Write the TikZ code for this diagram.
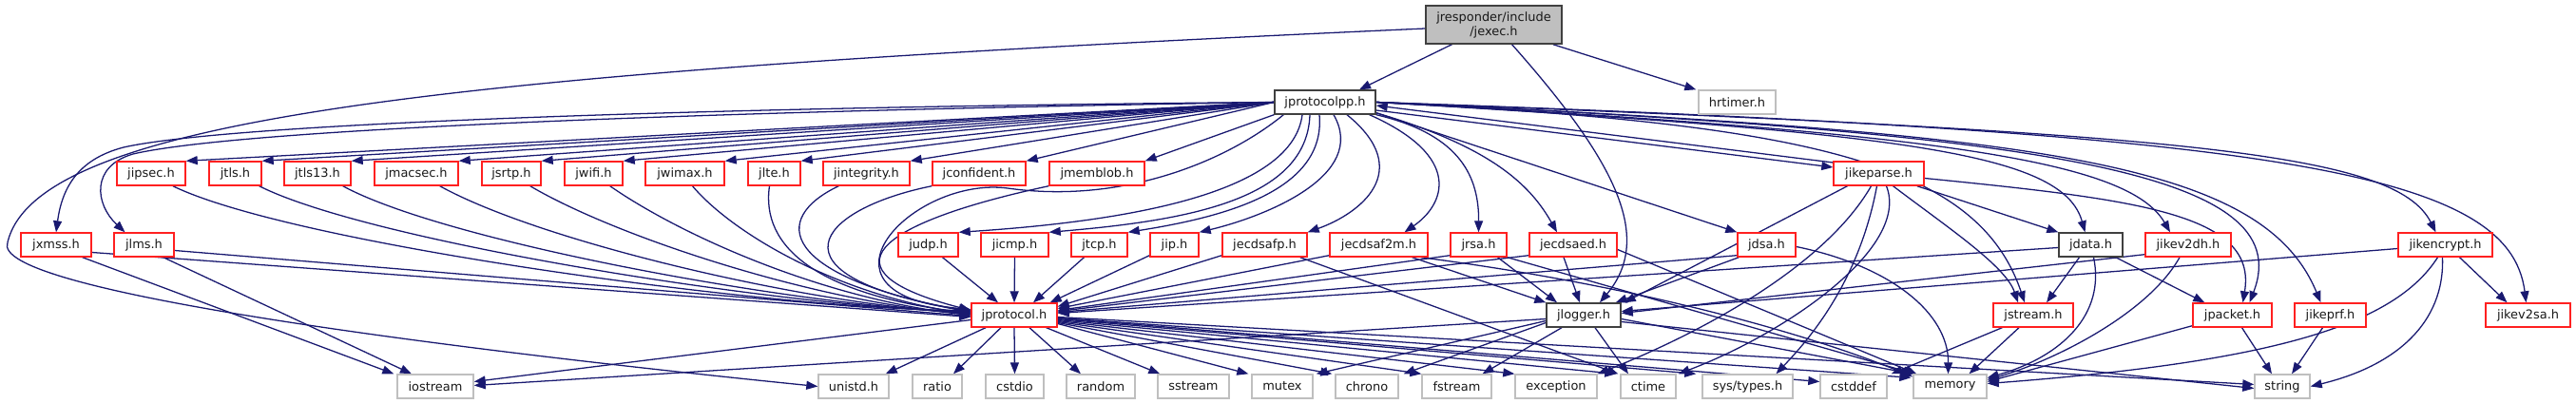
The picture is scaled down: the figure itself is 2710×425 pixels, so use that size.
\documentclass[tikz,border=0pt]{standalone}
\usepackage{fontspec}
\setmainfont{DejaVu Sans}
\usetikzlibrary{arrows.meta,calc,backgrounds}
\definecolor{edgec}{HTML}{191970}
\definecolor{redb}{HTML}{FF2020}
\definecolor{greyb}{HTML}{BFBFBF}
\definecolor{blackb}{HTML}{404040}
\definecolor{rootfill}{HTML}{BFBFBF}
\begin{document}
\begin{tikzpicture}[x=0.25mm,y=-0.25mm,
 nd/.style={rectangle,draw,fill=white,inner sep=0pt,minimum height=6.25mm,line width=0.35mm,text=black!90,font=\fontsize{9.2}{10.7}\selectfont},
 wd/.style={minimum width=#1*0.25mm},
 rb/.style={nd,draw=redb},
 gb/.style={nd,draw=greyb},
 kb/.style={nd,draw=blackb},
 dep/.style={draw=edgec,line width=0.32mm,-{Triangle[length=3mm,width=2.25mm]}},
]
\useasboundingbox (0,0) rectangle (2710,425);
% row 0 / 1
\node[kb,fill=rootfill,minimum height=10mm,wd=143,align=center] (jexec) at (1571.5,26) {jresponder/include\\/jexec.h};
\node[kb,wd=106] (jprotocolpp) at (1394,107.5) {jprotocolpp.h};
\node[gb,wd=81] (hrtimer) at (1827.5,107.5) {hrtimer.h};
% row 2
\node[rb,wd=72] (jipsec) at (159,182.5) {jipsec.h};
\node[rb,wd=55] (jtls) at (247.5,182.5) {jtls.h};
\node[rb,wd=70] (jtls13) at (334,182.5) {jtls13.h};
\node[rb,wd=88] (jmacsec) at (438,182.5) {jmacsec.h};
\node[rb,wd=62] (jsrtp) at (538,182.5) {jsrtp.h};
\node[rb,wd=61] (jwifi) at (624.5,182.5) {jwifi.h};
\node[rb,wd=83] (jwimax) at (720.5,182.5) {jwimax.h};
\node[rb,wd=55] (jlte) at (814.5,182.5) {jlte.h};
\node[rb,wd=91] (jintegrity) at (911.5,182.5) {jintegrity.h};
\node[rb,wd=98] (jconfident) at (1030,182.5) {jconfident.h};
\node[rb,wd=100] (jmemblob) at (1154,182.5) {jmemblob.h};
\node[rb,wd=95] (jikeparse) at (1976.5,182.5) {jikeparse.h};
% row 3
\node[rb,wd=74] (jxmss) at (59,257.5) {jxmss.h};
\node[rb,wd=63] (jlms) at (151.5,257.5) {jlms.h};
\node[rb,wd=63] (judp) at (976.5,257.5) {judp.h};
\node[rb,wd=71] (jicmp) at (1067.5,257.5) {jicmp.h};
\node[rb,wd=59] (jtcp) at (1156.5,257.5) {jtcp.h};
\node[rb,wd=51] (jip) at (1235.5,257.5) {jip.h};
\node[rb,wd=89] (jecdsafp) at (1330.5,257.5) {jecdsafp.h};
\node[rb,wd=103] (jecdsaf2m) at (1450.5,257.5) {jecdsaf2m.h};
\node[rb,wd=59] (jrsa) at (1555.5,257.5) {jrsa.h};
\node[rb,wd=92] (jecdsaed) at (1655,257.5) {jecdsaed.h};
\node[rb,wd=61] (jdsa) at (1858.5,257.5) {jdsa.h};
\node[kb,wd=67] (jdata) at (2199.5,257.5) {jdata.h};
\node[rb,wd=90] (jikev2dh) at (2302,257.5) {jikev2dh.h};
\node[rb,wd=99] (jikencrypt) at (2572.5,257.5) {jikencrypt.h};
% row 4
\node[rb,wd=90] (jprotocol) at (1067,331.5) {jprotocol.h};
\node[kb,wd=78] (jlogger) at (1666,331.5) {jlogger.h};
\node[rb,wd=84] (jstream) at (2139,331.5) {jstream.h};
\node[rb,wd=83] (jpacket) at (2348.5,331.5) {jpacket.h};
\node[rb,wd=75] (jikeprf) at (2451.5,331.5) {jikeprf.h};
\node[rb,wd=89] (jikev2sa) at (2659.5,331.5) {jikev2sa.h};
% row 5
\node[gb,wd=80] (iostream) at (458,406.5) {iostream};
\node[gb,wd=74] (unistd) at (898,406.5) {unistd.h};
\node[gb,wd=52] (ratio) at (986,406.5) {ratio};
\node[gb,wd=61] (cstdio) at (1067.5,406.5) {cstdio};
\node[gb,wd=72] (random) at (1158,406.5) {random};
\node[gb,wd=75] (sstream) at (1255.5,406.5) {sstream};
\node[gb,wd=64] (mutex) at (1349,406.5) {mutex};
\node[gb,wd=66] (chrono) at (1438,406.5) {chrono};
\node[gb,wd=73] (fstream) at (1532.5,406.5) {fstream};
\node[gb,wd=86] (exception) at (1637,406.5) {exception};
\node[gb,wd=58] (ctime) at (1734,406.5) {ctime};
\node[gb,wd=95] (systypes) at (1838.5,406.5) {sys/types.h};
\node[gb,wd=70] (cstddef) at (1950,406.5) {cstddef};
\node[gb,wd=77] (memory) at (2051.5,406.5) {memory};
\node[gb,wd=58] (string) at (2401,406.5) {string};

\begin{pgfonlayer}{background}
% jexec
\draw[dep] ($(jexec.south)+(-44,0)$) -- ($(jprotocolpp.north)+(36,0)$);
\draw[dep] ($(jexec.south east)+(-10,0)$) -- ($(hrtimer.north west)+(-2,0)$);
\draw[dep] ($(jexec.south)+(19,0)$) .. controls (1700,170) and (1740,250) .. ($(jlogger.north)+(17,0)$);
\draw[dep] ($(jexec.west)+(0,4)$) .. controls (500,75) and (40,120) .. (8,255) .. controls (-12,305) and (450,365) .. (unistd.west);
% jprotocolpp -> row 2
\foreach \t in {jipsec,jtls,jtls13,jmacsec,jsrtp,jwifi,jwimax,jlte,jintegrity,jconfident}
  \draw[dep] (jprotocolpp.west) -- (\t.north east);
\draw[dep] (jprotocolpp.south west) -- (jmemblob.north east);
\draw[dep] (jprotocolpp.west) .. controls (800,112) and (250,128) .. (130,155) .. controls (80,168) and (65,200) .. (jxmss.north);
\draw[dep] (jprotocolpp.west) .. controls (800,116) and (260,134) .. (140,162) .. controls (95,175) and (100,215) .. ($(jlms.north)+(-20,0)$);
% jprotocolpp -> row 3
\draw[dep] ($(jprotocolpp.south)+(-24,0)$) .. controls (1360,200) and (1200,232) .. (judp.north east);
\draw[dep] ($(jprotocolpp.south)+(-16,0)$) .. controls (1375,210) and (1250,232) .. (jicmp.north east);
\draw[dep] ($(jprotocolpp.south)+(-6,0)$) .. controls (1395,200) and (1290,228) .. (jtcp.north east);
\draw[dep] ($(jprotocolpp.south)+(9,0)$) .. controls (1440,185) and (1330,228) .. (jip.north east);
\draw[dep] ($(jprotocolpp.south)+(23,0)$) .. controls (1490,180) and (1430,225) .. (jecdsafp.north east);
\draw[dep] ($(jprotocolpp.south east)+(-7,0)$) .. controls (1540,165) and (1520,215) .. ($(jecdsaf2m.north)+(27,0)$);
\draw[dep] (jprotocolpp.south east) .. controls (1530,140) and (1556,180) .. (jrsa.north);
\draw[dep] ($(jprotocolpp.south east)+(0,-2)$) .. controls (1570,155) and (1610,195) .. ($(jecdsaed.north)+(-17,0)$);
\draw[dep] ($(jprotocolpp.south east)+(0,-2)$) -- (jdsa.north west);
\draw[dep] ($(jprotocolpp.south west)+(10,0)$) .. controls (1290,170) and (1180,215) .. (1060,198) .. controls (960,185) and (840,310) .. ($(jprotocol.west)+(0,-6)$);
% jprotocolpp <-> jikeparse and right side
\draw[dep] ($(jprotocolpp.east)+(0,8.5)$) -- ($(jikeparse.west)+(0,-6.5)$);
\draw[dep] ($(jikeparse.west)+(0,-11.5)$) -- ($(jprotocolpp.east)+(0,3.5)$);
\draw[dep] (jprotocolpp.east) .. controls (1900,130) and (2080,170) .. ($(jstream.north)+(-9,0)$);
\draw[dep] (jprotocolpp.east) .. controls (2000,140) and (2170,160) .. ($(jdata.north)+(-6,0)$);
\draw[dep] (jprotocolpp.east) .. controls (2050,140) and (2240,170) .. ($(jikev2dh.north)+(-19,0)$);
\draw[dep] (jprotocolpp.east) .. controls (2150,140) and (2420,180) .. ($(jpacket.north)+(18,0)$);
\draw[dep] (jprotocolpp.east) .. controls (2150,140) and (2380,170) .. ($(jikeprf.north)+(-10,0)$);
\draw[dep] (jprotocolpp.east) .. controls (2300,140) and (2520,160) .. ($(jikencrypt.north)+(-10,0)$);
\draw[dep] (jprotocolpp.east) .. controls (2400,140) and (2640,180) .. ($(jikev2sa.north)+(-2,0)$);
% row 2 -> jprotocol
\draw[dep] (jipsec.-30) .. controls (310,258) and (820,326) .. ($(jprotocol.west)+(0,-5)$);
\draw[dep] ($(jtls.south east)+(-3,0)$) .. controls (390,255) and (830,324) .. ($(jprotocol.west)+(0,-4)$);
\draw[dep] ($(jtls13.south east)+(-9,0)$) .. controls (470,255) and (840,322) .. ($(jprotocol.west)+(0,-3)$);
\draw[dep] ($(jmacsec.south east)+(-20,0)$) .. controls (570,255) and (850,320) .. ($(jprotocol.west)+(0,-2)$);
\draw[dep] ($(jsrtp.south east)+(-12,0)$) .. controls (650,250) and (860,318) .. ($(jprotocol.west)+(0,-1)$);
\draw[dep] ($(jwifi.south east)+(-14,0)$) .. controls (720,250) and (870,315) .. (jprotocol.west);
\draw[dep] ($(jwimax.south)+(8,0)$) .. controls (770,245) and (880,310) .. ($(jprotocol.west)+(0,-1)$);
\draw[dep] ($(jlte.south)+(-5,0)$) .. controls (800,260) and (860,310) .. ($(jprotocol.west)+(0,-2)$);
\draw[dep] ($(jintegrity.south west)+(17,0)$) .. controls (810,230) and (820,290) .. ($(jprotocol.west)+(0,-3)$);
\draw[dep] (jconfident.south west) .. controls (860,220) and (800,290) .. ($(jprotocol.west)+(0,-4)$);
\draw[dep] (jmemblob.south west) .. controls (920,235) and (860,285) .. ($(jprotocol.west)+(0,-5)$);
% row 3 -> jprotocol
\draw[dep] ($(jxmss.east)+(0,8)$) -- ($(jprotocol.west)+(0,2)$);
\draw[dep] ($(jlms.east)+(0,6)$) -- ($(jprotocol.west)+(0,1)$);
\draw[dep] ($(judp.south)+(15,0)$) -- ($(jprotocol.north)+(-17,0)$);
\draw[dep] (jicmp.south) -- (jprotocol.north);
\draw[dep] ($(jtcp.south)+(-16,0)$) -- ($(jprotocol.north)+(20,0)$);
\draw[dep] ($(jip.south west)+(0,-2)$) -- ($(jprotocol.north east)+(-8,0)$);
\draw[dep] ($(jecdsafp.south west)+(0,-2)$) -- ($(jprotocol.east)+(0,-9)$);
\draw[dep] ($(jecdsaf2m.south west)+(0,-2)$) -- ($(jprotocol.east)+(0,-7)$);
\draw[dep] ($(jrsa.south west)+(0,-2)$) -- ($(jprotocol.east)+(0,-5)$);
\draw[dep] ($(jecdsaed.south west)+(0,-2)$) -- ($(jprotocol.east)+(0,-4)$);
\draw[dep] ($(jdsa.south west)+(0,-2)$) -- ($(jprotocol.east)+(0,-3)$);
\draw[dep] ($(jdata.west)+(0,3)$) -- ($(jprotocol.east)+(0,-2)$);
% iostream
\draw[dep] ($(jxmss.south east)+(-10,0)$) -- ($(iostream.north west)+(-3,0)$);
\draw[dep] ($(jlms.south east)+(-12,0)$) -- ($(iostream.north)+(-25,0)$);
% row 3 -> jlogger / memory / ctime
\draw[dep] ($(jecdsaf2m.south)+(35,0)$) -- (jlogger.north west);
\draw[dep] ($(jrsa.south)+(20,0)$) -- ($(jlogger.north)+(-28,0)$);
\draw[dep] ($(jecdsaed.south)+(-10,0)$) -- ($(jlogger.north)+(-4,0)$);
\draw[dep] ($(jdsa.south west)+(2,0)$) -- ($(jlogger.north east)+(-6,0)$);
\draw[dep] ($(jikev2dh.south west)+(0,-3)$) -- ($(jlogger.east)+(0,-2)$);
\draw[dep] ($(jikencrypt.west)+(0,4)$) -- ($(jlogger.east)+(0,-4)$);
\draw[dep] ($(jecdsafp.south east)+(-8,0)$) -- ($(ctime.north west)+(-2,0)$);
\draw[dep] ($(jecdsaf2m.south east)+(-8,0)$) .. controls (1720,300) and (1900,350) .. ($(memory.north west)+(0,3)$);
\draw[dep] (jrsa.south east) -- ($(memory.north west)+(2,0)$);
\draw[dep] ($(jecdsaed.east)+(0,5)$) -- ($(memory.north west)+(4,0)$);
\draw[dep] ($(jdsa.east)+(0,2)$) .. controls (1990,280) and (2050,330) .. ($(memory.north)+(-2,0)$);
% jprotocol -> bottom
\draw[dep] ($(jprotocol.west)+(0,5)$) -- ($(iostream.east)+(0,-5)$);
\draw[dep] ($(jprotocol.south)+(-30,0)$) -- ($(unistd.north east)+(-4,0)$);
\draw[dep] ($(jprotocol.south)+(-14,0)$) -- ($(ratio.north)+(17,0)$);
\draw[dep] (jprotocol.south) -- (cstdio.north);
\draw[dep] ($(jprotocol.south)+(16,0)$) -- ($(random.north)+(-21,0)$);
\draw[dep] ($(jprotocol.south east)+(-12,0)$) -- ($(sstream.north west)+(3,0)$);
\draw[dep] ($(jprotocol.east)+(0,9)$) -- ($(mutex.north west)+(-3,0)$);
\draw[dep] ($(jprotocol.east)+(0,8)$) -- ($(chrono.north west)+(-3,0)$);
\draw[dep] ($(jprotocol.east)+(0,7)$) -- (fstream.north west);
\draw[dep] ($(jprotocol.east)+(0,6)$) -- (exception.north west);
\draw[dep] ($(jprotocol.east)+(0,5)$) -- ($(ctime.north west)+(-4,0)$);
\draw[dep] ($(jprotocol.east)+(0,4)$) -- ($(systypes.north west)+(-6,0)$);
\draw[dep] ($(jprotocol.east)+(0,3)$) -- ($(cstddef.west)+(0,-5)$);
\draw[dep] ($(jprotocol.east)+(0,3)$) -- ($(memory.north west)+(-2,4)$);
\draw[dep] ($(jprotocol.east)+(0,2)$) -- ($(string.west)+(0,-2)$);
% jlogger -> bottom
\draw[dep] ($(jlogger.west)+(0,4)$) -- ($(iostream.east)+(0,-1)$);
\draw[dep] ($(jlogger.west)+(0,6)$) -- ($(mutex.north east)+(3,0)$);
\draw[dep] ($(jlogger.west)+(0,8)$) -- ($(chrono.north east)+(5,0)$);
\draw[dep] ($(jlogger.south)+(-23,0)$) -- ($(fstream.north)+(27,0)$);
\draw[dep] ($(jlogger.south)+(12,0)$) -- ($(ctime.north)+(-21,0)$);
\draw[dep] ($(jlogger.east)+(0,4)$) -- (memory.north west);
\draw[dep] ($(jlogger.east)+(0,7)$) -- ($(string.west)+(0,2)$);
% jikeparse
\draw[dep] ($(jikeparse.south)+(-33,0)$) -- ($(jlogger.north east)+(3,0)$);
\draw[dep] ($(jikeparse.south)+(-8,0)$) .. controls (1920,280) and (1790,350) .. (exception.north east);
\draw[dep] ($(jikeparse.south)+(-2,0)$) .. controls (1955,300) and (1900,360) .. ($(systypes.north)+(30,0)$);
\draw[dep] ($(jikeparse.south)+(8,0)$) .. controls (2010,260) and (1880,350) .. ($(ctime.north east)+(2,0)$);
\draw[dep] ($(jikeparse.south)+(15,0)$) .. controls (2050,240) and (2110,280) .. ($(jstream.north)+(-16,0)$);
\draw[dep] ($(jikeparse.south east)+(-8,0)$) -- (jdata.north west);
\draw[dep] ($(jikeparse.east)+(0,5)$) .. controls (2250,210) and (2375,225) .. ($(jpacket.north)+(11,0)$);
% jdata
\draw[dep] ($(jdata.south)+(-12,0)$) -- ($(jstream.north)+(14,0)$);
\draw[dep] ($(jdata.south)+(3,0)$) .. controls (2215,330) and (2170,375) .. ($(memory.east)+(0,-9)$);
\draw[dep] ($(jdata.south east)+(-8,0)$) -- ($(jpacket.north west)+(13,0)$);
% jikev2dh
\draw[dep] ($(jikev2dh.south)+(-9,0)$) .. controls (2260,330) and (2160,380) .. ($(memory.east)+(0,-7)$);
% jikencrypt
\draw[dep] ($(jikencrypt.south)+(15,0)$) -- ($(jikev2sa.north)+(-22,0)$);
\draw[dep] ($(jikencrypt.south)+(-3,0)$) .. controls (2572,340) and (2520,385) .. (string.east);
\draw[dep] ($(jikencrypt.south)+(-8,0)$) .. controls (2520,340) and (2400,380) .. ($(memory.east)+(0,-3)$);
% jstream, jpacket, jikeprf
\draw[dep] ($(jstream.south west)+(10,0)$) -- ($(cstddef.north east)+(4,0)$);
\draw[dep] ($(jstream.south)+(-15,0)$) -- ($(memory.north)+(20,0)$);
\draw[dep] ($(jpacket.south west)+(0,-2)$) -- ($(memory.east)+(0,-5)$);
\draw[dep] ($(jpacket.south)+(10,0)$) -- ($(string.north)+(-11,0)$);
\draw[dep] ($(jikeprf.south)+(-8,0)$) -- ($(string.north)+(10,0)$);
\end{pgfonlayer}
\end{tikzpicture}
\end{document}
